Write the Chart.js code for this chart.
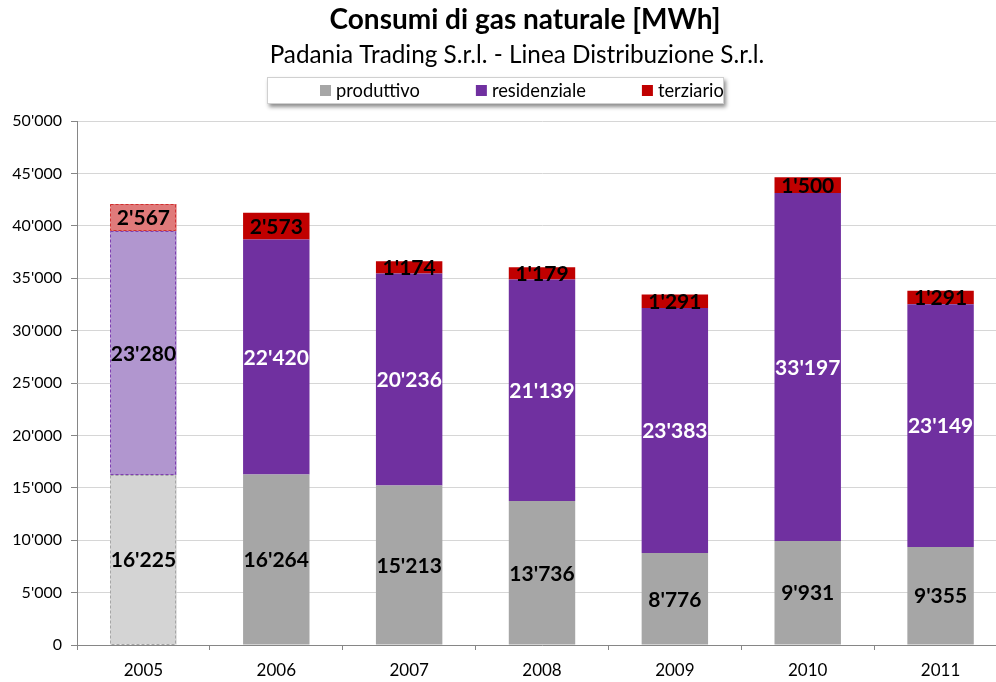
<!DOCTYPE html>
<html><head><meta charset="utf-8">
<script src="https://cdn.jsdelivr.net/npm/chart.js@4/dist/chart.umd.min.js"></script>
<style>html,body{margin:0;padding:0;background:#fff;overflow:hidden;width:996px;height:682px}canvas{display:block}</style>
</head><body>
<canvas id="c" width="1007" height="682"></canvas>
<script>
const TITLE = "Consumi di gas naturale [MWh]";
const SUBTITLE = "Padania Trading S.r.l. - Linea Distribuzione S.r.l.";
const years = ["2005", "2006", "2007", "2008", "2009", "2010", "2011"];
const produttivo = [16225, 16264, 15213, 13736, 8776, 9931, 9355];
const residenziale = [23280, 22420, 20236, 21139, 23383, 33197, 23149];
const terziario = [2567, 2573, 1174, 1179, 1291, 1500, 1291];
const estimatedYears = ["2005"];
const yMin = 0, yMax = 50000, yStep = 5000;

const FONT = "Lato, 'Open Sans', sans-serif";
const fmt = v => String(Math.round(v)).replace(/\B(?=(\d{3})+(?!\d))/g, "'");
const isEst = i => estimatedYears.includes(years[i]);

const seriesStyle = [
  { label: "produttivo", data: produttivo, color: "#a6a6a6", light: "#d4d4d4", edge: "#a6a6a6", txt: "#000", txtEst: "#000" },
  { label: "residenziale", data: residenziale, color: "#7030a0", light: "#b196cf", edge: "#7f3fb0", txt: "#fff", txtEst: "#000" },
  { label: "terziario", data: terziario, color: "#c00000", light: "#e07a7a", edge: "#d03030", txt: "#000", txtEst: "#000" }
];

const datasets = seriesStyle.map(s => ({
  label: s.label,
  data: s.data,
  backgroundColor: ctx => isEst(ctx.dataIndex) ? s.light : s.color,
  borderWidth: 0,
  categoryPercentage: 1.0,
  barPercentage: 0.5,
  _style: s
}));

const decorPlugin = {
  id: "decor",
  afterDatasetsDraw(chart) {
    const ctx = chart.ctx;
    chart.data.datasets.forEach((ds, di) => {
      const meta = chart.getDatasetMeta(di);
      meta.data.forEach((el, i) => {
        if (!isEst(i)) return;
        const p = el.getProps(["x", "y", "base", "width"], true);
        ctx.save();
        ctx.strokeStyle = ds._style.edge;
        ctx.lineWidth = 1;
        ctx.setLineDash([3, 2]);
        ctx.strokeRect(Math.round(p.x - p.width / 2) + 0.5, Math.round(p.y) + 0.5, Math.round(p.width) - 1, Math.round(p.base - p.y) - 1);
        ctx.restore();
      });
    });
    chart.data.datasets.forEach((ds, di) => {
      const meta = chart.getDatasetMeta(di);
      meta.data.forEach((el, i) => {
        const p = el.getProps(["x", "y", "base"], true);
        ctx.save();
        ctx.font = "bold 21px " + FONT;
        ctx.textAlign = "center";
        ctx.textBaseline = "middle";
        ctx.fillStyle = isEst(i) ? ds._style.txtEst : ds._style.txt;
        ctx.fillText(fmt(ds.data[i]), p.x, (p.y + p.base) / 2 + 1);
        ctx.restore();
      });
    });
  },
  afterDraw(chart) {
    const ctx = chart.ctx;
    ctx.save();
    ctx.fillStyle = "#000";
    ctx.textAlign = "center";
    ctx.textBaseline = "middle";
    ctx.font = "bold 28px " + FONT;
    ctx.fillText(TITLE, 525, 20);
    ctx.font = "24.3px " + FONT;
    ctx.fillText(SUBTITLE, 517, 55);
    const bx = 267, by = 77, bw = 457, bh = 27;
    ctx.save();
    ctx.shadowColor = "rgba(0,0,0,0.45)";
    ctx.shadowBlur = 4;
    ctx.shadowOffsetX = 2;
    ctx.shadowOffsetY = 3;
    ctx.fillStyle = "#fff";
    ctx.fillRect(bx, by, bw, bh);
    ctx.restore();
    ctx.strokeStyle = "#d0d0d0";
    ctx.lineWidth = 1;
    ctx.strokeRect(bx + 0.5, by + 0.5, bw - 1, bh - 1);
    ctx.font = "18.3px " + FONT;
    ctx.textAlign = "left";
    let x = 320;
    chart.data.datasets.forEach(ds => {
      ctx.fillStyle = ds._style.color;
      ctx.fillRect(x, 85, 11, 11);
      ctx.fillStyle = "#000";
      ctx.fillText(ds.label, x + 16, 91);
      x += 16 + ctx.measureText(ds.label).width + 56;
    });
    ctx.restore();
  }
};

new Chart(document.getElementById("c"), {
  type: "bar",
  data: { labels: years, datasets },
  plugins: [decorPlugin],
  options: {
    responsive: false,
    animation: false,
    devicePixelRatio: 1,
    layout: { padding: { top: 121, left: 0, right: 0, bottom: 0 } },
    plugins: { legend: { display: false }, title: { display: false }, tooltip: { enabled: false } },
    scales: {
      x: {
        stacked: true,
        afterFit: s => { s.height = 37; },
        grid: { display: true, drawOnChartArea: false, offset: true, tickLength: 5, tickColor: "#868686", color: "#868686" },
        border: { color: "#868686", width: 1 },
        ticks: { color: "#000", font: { family: FONT, size: 17 }, padding: 10 }
      },
      y: {
        stacked: true,
        min: yMin, max: yMax,
        afterFit: s => { s.width = 77; },
        grid: { color: "#d6d6d6", tickLength: 6, tickColor: "#868686" },
        border: { color: "#868686", width: 1 },
        ticks: { stepSize: yStep, color: "#000", font: { family: FONT, size: 16 }, padding: 9, callback: v => fmt(v) }
      }
    }
  }
});
</script>
</body></html>
